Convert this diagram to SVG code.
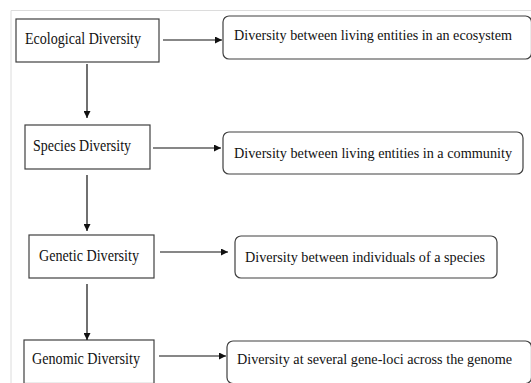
<svg xmlns="http://www.w3.org/2000/svg" width="531" height="383" viewBox="0 0 531 383">
<style>
.box{fill:#fff;stroke:#404040;stroke-width:1.2}
.frame{fill:none;stroke:#dcdcdc;stroke-width:1}
.t{font-family:"Liberation Serif","Times New Roman",serif;font-size:16px;fill:#111}
.r{font-family:"Liberation Serif","Times New Roman",serif;font-size:15px;fill:#111}
.c{stroke:#111;stroke-width:1.2;fill:none;marker-end:url(#ah)}
</style>
<defs>
<marker id="ah" viewBox="0 0 10 10" refX="10" refY="5" markerWidth="7" markerHeight="7" markerUnits="userSpaceOnUse" orient="auto">
<path d="M0,0 L10,5 L0,10 z" fill="#111"/>
</marker>
</defs>
<rect width="531" height="383" fill="#fff"/>
<path class="frame" d="M11,383 V10.5 H531"/>
<g id="ecological">
<rect class="box" x="16" y="19" width="143" height="43"/>
<text class="t" x="25" y="44" textLength="116" lengthAdjust="spacingAndGlyphs">Ecological Diversity</text>
</g>
<g id="ecosystem">
<rect class="box" x="223" y="16" width="308.5" height="43" rx="6"/>
<text class="r" x="234" y="40" textLength="278" lengthAdjust="spacingAndGlyphs">Diversity between living entities in an ecosystem</text>
</g>
<g id="species">
<rect class="box" x="25" y="125" width="125" height="44"/>
<text class="t" x="33" y="151" textLength="98" lengthAdjust="spacingAndGlyphs">Species Diversity</text>
</g>
<g id="community">
<rect class="box" x="223" y="132" width="300" height="42" rx="6"/>
<text class="r" x="234" y="158" textLength="278" lengthAdjust="spacingAndGlyphs">Diversity between living entities in a community</text>
</g>
<g id="genetic">
<rect class="box" x="29" y="235" width="125" height="43"/>
<text class="t" x="39" y="261" textLength="100" lengthAdjust="spacingAndGlyphs">Genetic Diversity</text>
</g>
<g id="individuals">
<rect class="box" x="235" y="236" width="262" height="42" rx="6"/>
<text class="r" x="245" y="262" textLength="240" lengthAdjust="spacingAndGlyphs">Diversity between individuals of a species</text>
</g>
<g id="genomic">
<rect class="box" x="24" y="340" width="130" height="43.5"/>
<text class="t" x="32" y="364" textLength="108" lengthAdjust="spacingAndGlyphs">Genomic Diversity</text>
</g>
<g id="geneloci">
<rect class="box" x="227" y="341" width="304.5" height="42.5" rx="6"/>
<text class="r" x="237" y="364" textLength="275" lengthAdjust="spacingAndGlyphs">Diversity at several gene-loci across the genome</text>
</g>
<g id="connectors">
<line class="c" x1="163" y1="40" x2="222" y2="40"/>
<line class="c" x1="87" y1="64" x2="87" y2="118"/>
<line class="c" x1="153" y1="148" x2="221" y2="148"/>
<line class="c" x1="87" y1="175" x2="87" y2="231"/>
<line class="c" x1="160" y1="252" x2="228" y2="252"/>
<line class="c" x1="87" y1="284" x2="87" y2="340"/>
<line class="c" x1="159" y1="356" x2="226" y2="356"/>
</g>
</svg>
